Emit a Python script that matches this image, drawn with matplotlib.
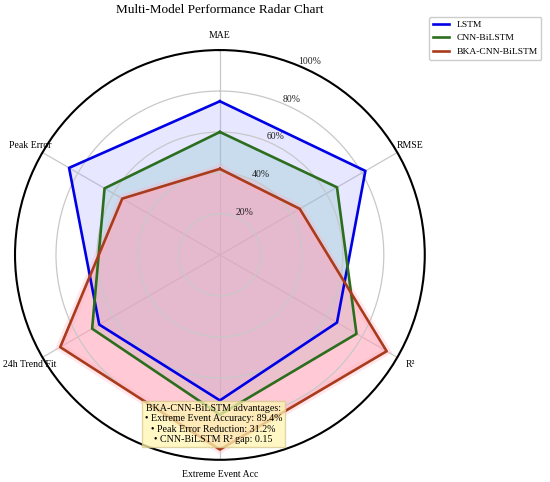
import numpy as np
import matplotlib
matplotlib.use("Agg")
import matplotlib.pyplot as plt

plt.rcParams['font.family'] = ['Liberation Serif', 'DejaVu Serif']

categories = ['MAE', 'RMSE', 'R²', 'Extreme Event Acc', '24h Trend Fit', 'Peak Error']
lstm = [0.75, 0.82, 0.66, 0.71, 0.68, 0.85]
cnn_bilstm = [0.60, 0.66, 0.77, 0.78, 0.72, 0.65]
bka_cnn_bilstm = [0.42, 0.45, 0.94, 0.95, 0.90, 0.55]
series_names = ['LSTM', 'CNN-BiLSTM', 'BKA-CNN-BiLSTM']
r_ticks = [0.2, 0.4, 0.6, 0.8, 1.0]
r_tick_labels = ['20%', '40%', '60%', '80%', '100%']
note_text = ("BKA-CNN-BiLSTM advantages:\n"
             "• Extreme Event Accuracy: 89.4%\n"
             "• Peak Error Reduction: 31.2%\n"
             "• CNN-BiLSTM R² gap: 0.15")

line_colors = ['#0000e6', '#2d6e1e', '#a83c1c']
fill_colors = ['#a0a0ff', '#8fc8d0', '#ff9fb4']
fill_alphas = [0.25, 0.35, 0.55]

fig = plt.figure(figsize=(5.5, 4.82), dpi=100)
ax = fig.add_axes([0.0273, 0.0456, 0.745, 0.851], projection='polar')
ax.set_theta_offset(np.pi / 2)
ax.set_theta_direction(-1)

n = len(categories)
angles = np.linspace(0, 2 * np.pi, n, endpoint=False)
ang_closed = np.concatenate([angles, angles[:1]])

for i, (vals, name, lc, fc, fa) in enumerate(zip([lstm, cnn_bilstm, bka_cnn_bilstm], series_names,
                                                 line_colors, fill_colors, fill_alphas)):
    v = np.concatenate([vals, vals[:1]])
    ax.fill(ang_closed, v, color=fc, alpha=fa, zorder=2)
    if i == 2:
        ax.plot(ang_closed, v, color='#ffb0c0', linewidth=6, alpha=0.3, zorder=2,
                solid_joinstyle='miter')
    ax.plot(ang_closed, v, color=lc, linewidth=1.9, label=name, zorder=5)

ax.set_ylim(0, 1.0)
ax.set_yticks(r_ticks)
ax.set_yticklabels(r_tick_labels, fontsize=7, color='#222222')
ax.set_rlabel_position(22.5)
ax.yaxis.set_zorder(4)
ax.yaxis.get_gridlines()[-1].set_visible(False)
ax.set_xticks(angles)
ax.set_xticklabels(categories, fontsize=7)
ax.tick_params(axis='x', pad=0)
ax.grid(color='#c8c8c8', linewidth=0.9)
ax.spines['polar'].set_color('black')
ax.spines['polar'].set_linewidth(1.5)
ax.spines['polar'].set_zorder(6)

fig.text(220 / 550, 1 - 10 / 482, 'Multi-Model Performance Radar Chart',
         ha='center', va='center', fontsize=9.5)

fig.legend(loc='upper right', bbox_to_anchor=(0.993, 0.975), fontsize=6.8,
           framealpha=1.0, edgecolor='#cccccc', fancybox=True, handlelength=1.7)

fig.text(213.5 / 550, 1 - 424 / 482, note_text, ha='center', va='center', fontsize=7.2,
         zorder=7, linespacing=1.2,
         bbox=dict(boxstyle='square,pad=0.3', facecolor='#fff5b0', alpha=0.75, edgecolor='#d8c890'))

fig.savefig('out.png', dpi=100)
